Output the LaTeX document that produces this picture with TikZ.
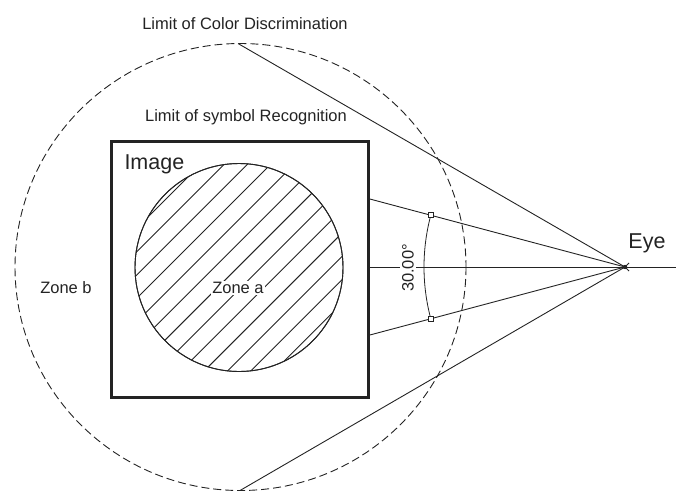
\documentclass[tikz,border=0pt]{standalone}
\usepackage{fontspec}
\setmainfont{Liberation Sans}
\definecolor{ink}{RGB}{35,35,35}
\begin{document}
\begin{tikzpicture}[x=1pt,y=-1pt,line width=1pt,draw=ink,
  lbl/.style={font=\fontsize{16.5}{18}\selectfont,text=ink,inner sep=1pt},
  big/.style={font=\fontsize{21.5}{24}\selectfont,text=ink,inner sep=0pt},
  dashline/.style={dash pattern=on 8pt off 4pt,line width=0.9pt},
  thin/.style={line width=0.9pt},
  tick/.style={draw=ink,line width=0.8pt,minimum size=5pt,inner sep=0pt,fill=white}]
\useasboundingbox (0,0) rectangle (676,491);
% outer dashed limit
\draw[dashline] (240.5,267) ellipse [x radius=225.5, y radius=223.5];
% key points
\coordinate (eye) at (625,267);
\coordinate (top) at (238,43.5);
\coordinate (bot) at (240,490.5);
\coordinate (bu) at (368,198.5);
\coordinate (bl) at (368,335.5);
\coordinate (bm) at (368,267);
\coordinate (far) at (676,267);
% image box
\node (box) [draw=ink,line width=3pt,minimum width=257pt,minimum height=256pt,inner sep=0pt] at (239.5,269) {};
% hatched zone a
\node (za) [circle,draw=ink,thin,minimum size=208pt,inner sep=0pt] at (239,267.5) {};
\begin{scope}
  \clip (239,267.5) circle (104);
  \foreach \k in {-6,...,6}
    \draw[thin,shift={(239-0.7+\k*11.67,267.5-0.7+\k*11.67)}] (-160,160) -- (160,-160);
\end{scope}
\draw[thin] (239,267.5) circle (104);
% sight lines
\draw[thin] (top) -- (eye);
\draw[thin] (bot) -- (eye);
\draw[thin] (bu) -- (eye);
\draw[thin] (bl) -- (eye);
\draw[thin] (bm) -- (far);
% angle arc
\draw[line width=0.8pt] (eye) ++(165:201) arc[start angle=165,end angle=195,radius=201];
\node (t1) [tick] at (430.8,215) {};
\node (t2) [tick] at (430.8,319) {};
\node (ang) [lbl,rotate=90,fill=white,inner sep=2pt] at (408,268) {30.00°};
% eye mark
\fill[ink] (eye) circle (2.2);
\draw[line width=0.8pt] (eye) ++(4,-4) -- ++(-4,4) -- ++(4,4);
% labels
\node (lc) [lbl] at (245,24) {Limit of Color Discrimination};
\node (ls) [lbl] at (246,117) {Limit of symbol Recognition};
\node (img) [big,anchor=west] at (124,164) {Image};
\node (zb) [lbl] at (66,288) {Zone b};
\node (zat) [lbl,fill=white,inner sep=1.5pt] at (238,288) {Zone a};
\node (ey) [big] at (647,243) {Eye};
\end{tikzpicture}
\end{document}
